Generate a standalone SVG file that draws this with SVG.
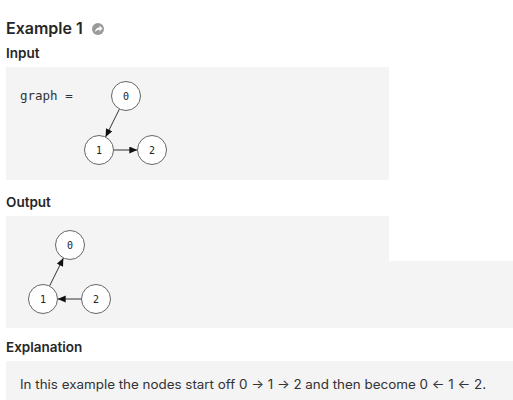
<svg xmlns="http://www.w3.org/2000/svg" width="513" height="400" viewBox="0 0 513 400">
<style>
.h1{font-family:Inter,"Liberation Sans",sans-serif;font-weight:600;font-size:16px;fill:#262626}
.h2{font-family:Inter,"Liberation Sans",sans-serif;font-weight:600;font-size:13.5px;fill:#262626}
.box{fill:#f4f4f4}
.node circle{fill:#fff;stroke:#666;stroke-width:1}
.node text{font-family:"DejaVu Sans Mono","Liberation Mono",monospace;font-size:10px;fill:#222;text-anchor:middle}
.edge{stroke:#333;stroke-width:1;fill:none;marker-end:url(#arr)}
.mono{font-family:"DejaVu Sans Mono","Liberation Mono",monospace;font-size:12.5px;fill:#333}
.body{font-family:Inter,"Liberation Sans",sans-serif;font-size:12.5px;fill:#333}
</style>
<defs>
<marker id="arr" markerUnits="userSpaceOnUse" markerWidth="9" markerHeight="8" refX="8" refY="3.5" orient="auto">
<path d="M0,0 L8,3.5 L0,7 z" fill="#111"/>
</marker>
</defs>
<rect width="513" height="400" fill="#fff"/>
<text class="h1" x="6" y="34">Example 1</text>
<g id="icon">
<circle cx="98" cy="29" r="6" fill="#9a9a9a"/>
<path d="M95,32 Q95.5,27.5 99.5,27.5 L99.5,25.5 L102.5,28.5 L99.5,31.5 L99.5,29.5 Q97,29.5 95,32 z" fill="#fff"/>
</g>
<text class="h2" x="6" y="58">Input</text>
<rect class="box" x="6" y="67" width="383" height="113"/>
<text class="mono" x="20" y="100">graph =</text>
<g id="in-connectors">
<line class="edge" x1="119.4" y1="109.1" x2="105.6" y2="136.9"/>
<line class="edge" x1="113.7" y1="150" x2="137.3" y2="150"/>
</g>
<g id="in-node0" class="node"><circle cx="126" cy="96" r="14.5"/><text x="126" y="99.5">0</text></g>
<g id="in-node1" class="node"><circle cx="99" cy="150" r="14.5"/><text x="99" y="153.5">1</text></g>
<g id="in-node2" class="node"><circle cx="152" cy="150" r="14.5"/><text x="152" y="153.5">2</text></g>
<text class="h2" x="6" y="207">Output</text>
<path class="box" d="M6,216 H389 V261 H513 V328 H6 Z"/>
<g id="out-connectors">
<line class="edge" x1="49.6" y1="285.9" x2="63.4" y2="258.1"/>
<line class="edge" x1="81.3" y1="299" x2="57.7" y2="299"/>
</g>
<g id="out-node0" class="node"><circle cx="70" cy="245" r="14.5"/><text x="70" y="248.5">0</text></g>
<g id="out-node1" class="node"><circle cx="43" cy="299" r="14.5"/><text x="43" y="302.5">1</text></g>
<g id="out-node2" class="node"><circle cx="96" cy="299" r="14.5"/><text x="96" y="302.5">2</text></g>
<text class="h2" x="6" y="352">Explanation</text>
<rect class="box" x="6" y="361" width="507" height="39"/>
<text class="body" x="20" y="389" textLength="466" lengthAdjust="spacingAndGlyphs">In this example the nodes start off 0 → 1 → 2 and then become 0 ← 1 ← 2.</text>
</svg>
